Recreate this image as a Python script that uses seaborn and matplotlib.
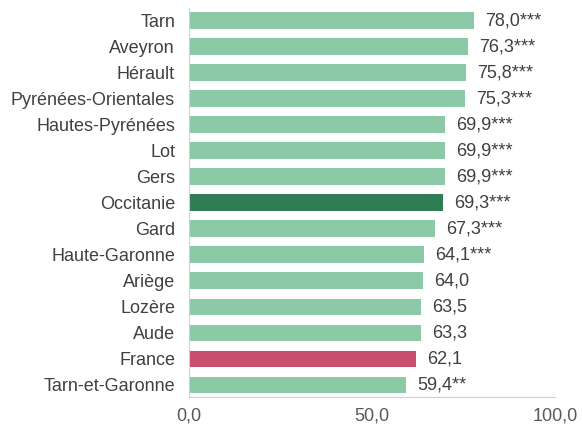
import matplotlib
matplotlib.use("Agg")
import matplotlib.pyplot as plt
import seaborn as sns
import pandas as pd

# data
territories = [
    "Tarn", "Aveyron", "Hérault", "Pyrénées-Orientales", "Hautes-Pyrénées",
    "Lot", "Gers", "Occitanie", "Gard", "Haute-Garonne", "Ariège",
    "Lozère", "Aude", "France", "Tarn-et-Garonne",
]
values = [78.0, 76.3, 75.8, 75.3, 69.9, 69.9, 69.9, 69.3, 67.3, 64.1,
          64.0, 63.5, 63.3, 62.1, 59.4]
signif = ["***", "***", "***", "***", "***", "***", "***", "***", "***",
          "***", "", "", "", "", "**"]
x_ticks = [0, 50, 100]

light_green = "#8ccaa7"
dark_green = "#2e7d55"
pink = "#c94d6d"
text_col = "#404040"

colors = []
for name in territories:
    if name == "Occitanie":
        colors.append(dark_green)
    elif name == "France":
        colors.append(pink)
    else:
        colors.append(light_green)

df = pd.DataFrame({"territoire": territories, "valeur": values})

sns.set_style("white")
plt.rcParams["font.family"] = ["Liberation Sans", "DejaVu Sans"]

fig = plt.figure(figsize=(5.83, 4.29), dpi=100)
ax = fig.add_axes([0.324, 0.075, 0.628, 0.907])

sns.barplot(
    data=df,
    x="valeur",
    y="territoire",
    hue="territoire",
    palette=colors,
    legend=False,
    width=0.64,
    saturation=1,
    linewidth=0,
    ax=ax,
)

for i, (v, s) in enumerate(zip(values, signif)):
    label = f"{v:.1f}".replace(".", ",") + s
    ax.annotate(
        label,
        xy=(v, i),
        xytext=(8, 0),
        textcoords="offset points",
        va="center",
        ha="left",
        fontsize=13,
        color=text_col,
    )

ax.set_xlim(0, 100)
ax.set_ylim(14.46, -0.5)
ax.set_xticks(x_ticks)
ax.set_xticklabels([f"{t:.1f}".replace(".", ",") for t in x_ticks])
ax.set_xlabel("")
ax.set_ylabel("")
ax.tick_params(axis="x", length=0, pad=8, labelsize=13, colors="#595959")
ax.tick_params(axis="y", length=0, pad=10, labelsize=13, colors=text_col)

for side in ["top", "right"]:
    ax.spines[side].set_visible(False)
ax.spines["left"].set_color("#d0d0d0")
ax.spines["bottom"].set_color("#d0d0d0")

fig.savefig("out.png", dpi=100)
